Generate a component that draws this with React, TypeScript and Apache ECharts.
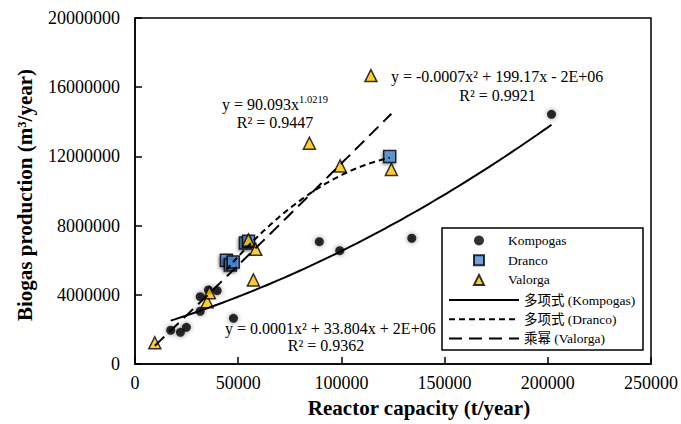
import React, { useEffect, useRef } from "react";
import * as echarts from "echarts";

// ---- data ----
const xTicks = [0, 50000, 100000, 150000, 200000, 250000];
const yTicks = [0, 4000000, 8000000, 12000000, 16000000, 20000000];

const kompogasX = [17300, 22000, 24900, 31600, 31600, 35600, 39800, 47700, 44000, 89300, 99200, 134100, 201800];
const kompogasY = [1950000, 1830000, 2120000, 3050000, 3890000, 4280000, 4240000, 2640000, 5950000, 7070000, 6550000, 7270000, 14430000];

const drancoX = [44300, 46200, 47600, 53500, 55000, 123400];
const drancoY = [6000000, 5720000, 5900000, 7000000, 7100000, 12000000];

const valorgaX = [9600, 34950, 36060, 54950, 58500, 57350, 84500, 99400, 124200, 114300];
const valorgaY = [1230000, 3600000, 4120000, 7170000, 6630000, 4860000, 12760000, 11450000, 11250000, 16670000];

// trendline coefficients (Excel trendlines shown on the chart)
const kompogasFit = [0.000125, 34, 1880000]; // a x^2 + b x + c
const drancoFit = [-0.0007, 199.17, -2000000]; // a x^2 + b x + c
const valorgaFit = [90.093, 1.0219]; // a x^b

const seriesNames = ["Kompogas", "Dranco", "Valorga"];
const trendNames = ["多项式 (Kompogas)", "多项式 (Dranco)", "乘幂 (Valorga)"];

const FONT = "'Liberation Serif', 'Times New Roman', serif";
const CJK = "'Liberation Serif', 'Noto Sans CJK SC', serif";

function zip(xs: number[], ys: number[]) {
  return xs.map((x, i) => [x, ys[i]]);
}

function curve(xs: number[], f: (x: number) => number, n = 80) {
  const lo = Math.min(...xs);
  const hi = Math.max(...xs);
  const pts: number[][] = [];
  for (let i = 0; i <= n; i++) {
    const x = lo + ((hi - lo) * i) / n;
    pts.push([x, f(x)]);
  }
  return pts;
}

export default function App() {
  const ref = useRef<HTMLDivElement>(null);
  useEffect(() => {
    const chart = echarts.init(ref.current!, null, { renderer: "svg" });
    const quad = (c: number[]) => (x: number) => c[0] * x * x + c[1] * x + c[2];
    const pow = (c: number[]) => (x: number) => c[0] * Math.pow(x, c[1]);

    const axisCommon = {
      type: "value" as const,
      axisLine: { show: true, lineStyle: { color: "#000", width: 1.5 } },
      axisTick: { show: true, inside: true, length: 7, lineStyle: { color: "#000", width: 1.5 } },
      splitLine: { show: false },
    };

    const option: any = {
      animation: false,
      backgroundColor: "#fff",
      grid: {
        left: 135,
        right: 26,
        top: 18,
        bottom: 60,
        show: true,
        borderColor: "#000",
        borderWidth: 1.5,
      },
      xAxis: {
        ...axisCommon,
        min: xTicks[0],
        max: xTicks[xTicks.length - 1],
        interval: xTicks[1] - xTicks[0],
        axisLabel: {
          color: "#000",
          fontFamily: FONT,
          fontSize: 18,
          margin: 10,
          formatter: (v: number) => String(v),
        },
        name: "Reactor capacity (t/year)",
        nameLocation: "middle",
        nameGap: 33,
        nameTextStyle: {
          fontFamily: FONT,
          fontSize: 21,
          fontWeight: "bold",
          color: "#000",
          padding: [0, 0, 0, 52],
        },
      },
      yAxis: {
        ...axisCommon,
        min: yTicks[0],
        max: yTicks[yTicks.length - 1],
        interval: yTicks[1] - yTicks[0],
        axisLabel: {
          color: "#000",
          fontFamily: FONT,
          fontSize: 18,
          margin: 15,
          formatter: (v: number) => String(v),
        },
        name: "Biogas production (m³/year)",
        nameLocation: "middle",
        nameGap: 100,
        nameTextStyle: {
          fontFamily: FONT,
          fontSize: 21,
          fontWeight: "bold",
          color: "#000",
          padding: [0, 8, 0, 0],
        },
      },
      legend: [
        {
          data: [
            { name: seriesNames[0], icon: "circle" },
            { name: seriesNames[1], icon: "rect" },
            { name: seriesNames[2], icon: "triangle" },
          ],
          orient: "vertical",
          left: 473,
          top: 233.5,
          padding: 0,
          itemWidth: 10,
          itemHeight: 10,
          itemGap: 5.7,
          selectedMode: false,
          z: 10,
          textStyle: {
            fontFamily: FONT,
            fontSize: 13.5,
            color: "#000",
            lineHeight: 14,
            padding: [0, 0, 0, 19],
          },
        },
        {
          data: trendNames,
          orient: "vertical",
          left: 448,
          top: 293,
          padding: 0,
          itemWidth: 70,
          itemHeight: 14,
          itemGap: 5.2,
          selectedMode: false,
          z: 10,
          itemStyle: {
            color: "rgba(0,0,0,0)",
            borderColor: "rgba(0,0,0,0)",
            borderWidth: 0,
          },
          textStyle: {
            fontFamily: CJK,
            fontSize: 13.5,
            color: "#000",
            lineHeight: 14,
          },
        },
      ],
      graphic: [
        {
          type: "rect",
          z: 5,
          shape: { x: 442, y: 228, width: 201, height: 122 },
          style: { fill: "#fff", stroke: "#000", lineWidth: 1.5 },
        },
        {
          type: "text",
          z: 6,
          x: 222,
          y: 104,
          style: {
            text: "{a|y = 90.093x}{s|1.0219}",
            textVerticalAlign: "middle",
            rich: {
              a: { fontSize: 16, fontFamily: FONT, lineHeight: 20, fill: "#000" },
              s: { fontSize: 10.5, fontFamily: FONT, lineHeight: 11, fill: "#000", verticalAlign: "top" },
            },
          },
        },
        {
          type: "text",
          z: 6,
          x: 275,
          y: 122,
          style: {
            text: "R² = 0.9447",
            font: `16px ${FONT}`,
            fill: "#000",
            textAlign: "center",
            textVerticalAlign: "middle",
          },
        },
        {
          type: "text",
          z: 6,
          x: 391,
          y: 76,
          style: {
            text: "y = -0.0007x² + 199.17x - 2E+06",
            font: `16px ${FONT}`,
            fill: "#000",
            textVerticalAlign: "middle",
          },
        },
        {
          type: "text",
          z: 6,
          x: 497.5,
          y: 95,
          style: {
            text: "R² = 0.9921",
            font: `16px ${FONT}`,
            fill: "#000",
            textAlign: "center",
            textVerticalAlign: "middle",
          },
        },
        {
          type: "text",
          z: 6,
          x: 225,
          y: 328,
          style: {
            text: "y = 0.0001x² + 33.804x + 2E+06",
            font: `16px ${FONT}`,
            fill: "#000",
            textVerticalAlign: "middle",
          },
        },
        {
          type: "text",
          z: 6,
          x: 326,
          y: 345,
          style: {
            text: "R² = 0.9362",
            font: `16px ${FONT}`,
            fill: "#000",
            textAlign: "center",
            textVerticalAlign: "middle",
          },
        },
      ],
      series: [
        {
          name: seriesNames[0],
          type: "scatter",
          data: zip(kompogasX, kompogasY),
          symbol: "circle",
          symbolSize: 9,
          z: 3,
          itemStyle: {
            color: "#000",
            shadowBlur: 5,
            shadowColor: "rgba(0,0,0,0.55)",
          },
        },
        {
          name: seriesNames[1],
          type: "scatter",
          data: zip(drancoX, drancoY),
          symbol: "rect",
          symbolSize: 12,
          z: 3,
          itemStyle: {
            color: "#4d8ad6",
            borderColor: "#000",
            borderWidth: 1.5,
            shadowBlur: 3,
            shadowOffsetX: -1,
            shadowOffsetY: 1.5,
            shadowColor: "rgba(0,0,0,0.5)",
          },
        },
        {
          name: seriesNames[2],
          type: "scatter",
          data: zip(valorgaX, valorgaY),
          symbol: "triangle",
          symbolSize: 12,
          z: 3,
          itemStyle: {
            color: "#ffc000",
            borderColor: "#000",
            borderWidth: 1.5,
          },
        },
        {
          name: trendNames[0],
          type: "line",
          data: curve(kompogasX, quad(kompogasFit)),
          symbol: "none",
          z: 4,
          itemStyle: { color: "#000" },
          lineStyle: { color: "#000", width: 2, type: "solid" },
        },
        {
          name: trendNames[1],
          type: "line",
          data: curve(drancoX, quad(drancoFit)),
          symbol: "none",
          z: 4,
          itemStyle: { color: "#000" },
          lineStyle: { color: "#000", width: 2, type: [6, 4] },
        },
        {
          name: trendNames[2],
          type: "line",
          data: curve(valorgaX, pow(valorgaFit)),
          symbol: "none",
          z: 4,
          itemStyle: { color: "#000" },
          lineStyle: { color: "#000", width: 2, type: [13, 7] },
        },
      ],
    };
    chart.setOption(option);
    return () => chart.dispose();
  }, []);
  return (
    <div
      ref={ref}
      style={{ position: "fixed", left: 0, top: 0, width: 681, height: 424 }}
    />
  );
}
